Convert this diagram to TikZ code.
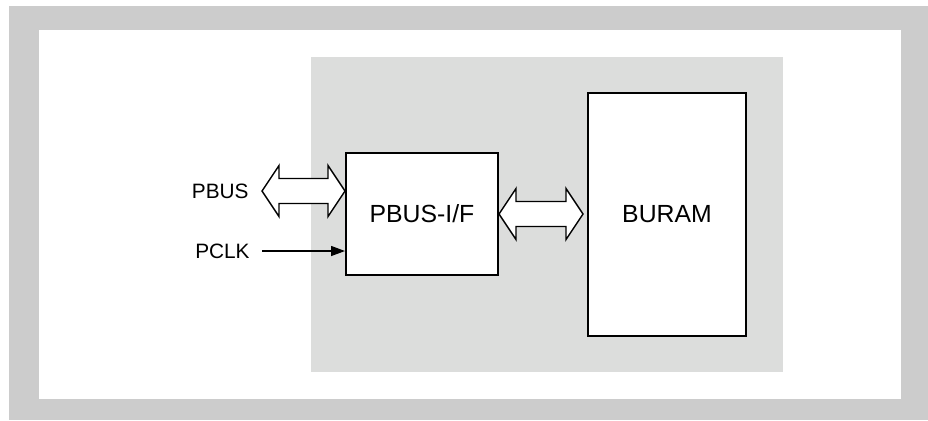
\documentclass[tikz,border=0pt]{standalone}
\usepackage{fontspec}
\setmainfont{Liberation Sans}
\usetikzlibrary{arrows.meta}
\usetikzlibrary{positioning}
\usetikzlibrary{calc}
\definecolor{framegray}{HTML}{CCCCCC}
\definecolor{areagray}{HTML}{DCDDDC}
\tikzset{block/.style = {draw, line width = 1pt, fill = white, inner sep = 0,
                         font = \fontsize{12.4}{14}\selectfont}}
\tikzset{signame/.style = {inner sep = 0, font = \fontsize{10.4}{12}\selectfont}}
\tikzset{busarrow/.style = {draw, fill = white, line width = 0.7pt, line join = miter}}
\tikzset{clkline/.style = {line width = 0.7pt, -{Triangle[length = 7pt, width = 5pt]}}}
\newcommand\fatbus[2]{%
  \draw [busarrow] (#1) -- ++(17, -25.5) -- ++(0, 13) -- ($(#2) + (-17, -12.5)$)
    -- ++(0, -13) -- (#2) -- ++(-17, 25.5) -- ++(0, -13) -- ($(#1) + (17, 12.5)$)
    -- ++(0, 13) -- cycle;}

\begin{document}
\begin{tikzpicture}[x = 0.5pt, y = -0.5pt]
    \useasboundingbox (0, 0) rectangle (928, 420);
    % frame and shaded area
    \fill [framegray] (9, 6) rectangle (928, 420);
    \fill [white] (39, 30) rectangle (901, 399);
    \fill [areagray] (311, 57) rectangle (783, 372);
    % blocks
    \node [block, minimum width = 76pt, minimum height = 61pt] (pbusif) at (422, 214) {PBUS-I/F};
    \node [block, minimum width = 79pt, minimum height = 121.5pt] (buram) at (667, 214.5) {BURAM};
    % signals
    \node [signame, anchor = east] (pbus) at (249, 191) {PBUS};
    \node [signame, anchor = east] (pclk) at (250, 251) {PCLK};
    \coordinate (pbusend) at ($(pbus.east) + (13, 0)$);
    \coordinate (pbusin) at (pbusif.west |- pbusend);
    \coordinate (ramout) at (pbusif.east);
    \coordinate (ramin) at ($(buram.west |- ramout) + (-4, 0)$);
    \fatbus{pbusend}{pbusin}
    \fatbus{ramout}{ramin}
    \draw [clkline] ($(pclk.east) + (12, 0)$) -- (pclk.east -| pbusif.west);
\end{tikzpicture}
\end{document}
